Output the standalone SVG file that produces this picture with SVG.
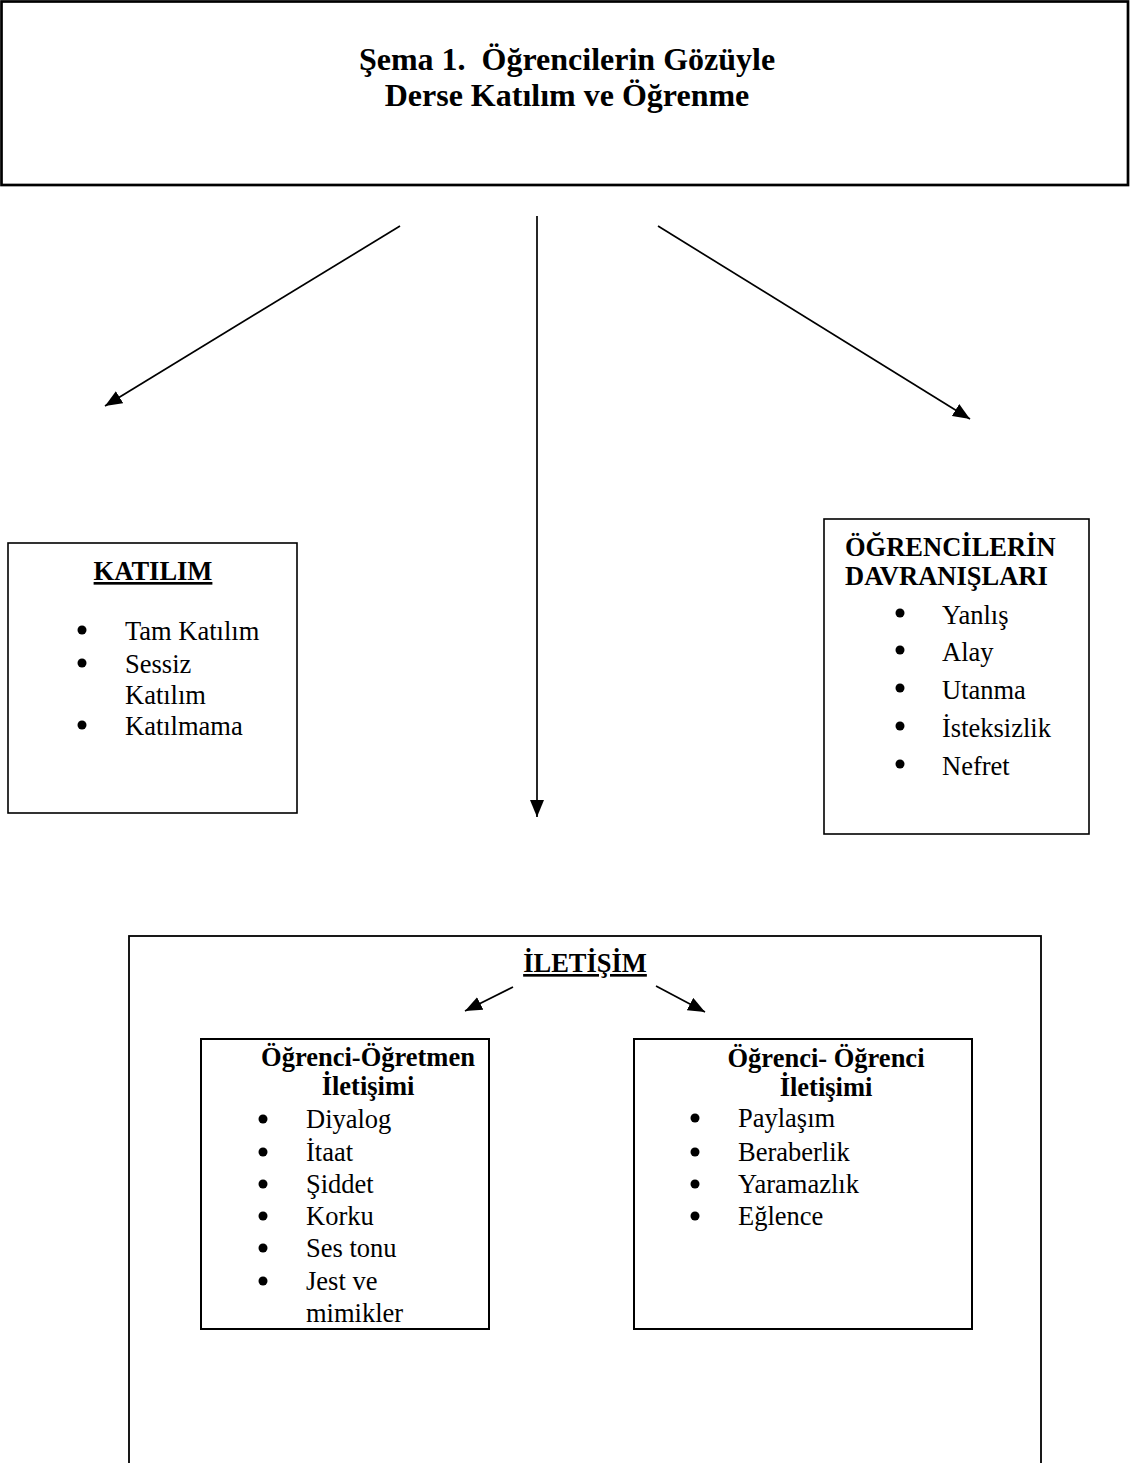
<svg xmlns="http://www.w3.org/2000/svg" width="1132" height="1463" viewBox="0 0 1132 1463">
  <style>
    .box { fill: none; stroke: #000; }
    .t { font-family: "Liberation Serif", "Times New Roman", serif; font-size: 26.5px; fill: #000; }
    .b { font-weight: bold; }
    .u { text-decoration: underline; }
    .title { font-family: "Liberation Serif", "Times New Roman", serif; font-size: 32px; font-weight: bold; fill: #000; }
    .edge { stroke: #000; stroke-width: 1.7; fill: none; marker-end: url(#arrow); }
    .dot { fill: #000; }
  </style>
  <defs>
    <marker id="arrow" markerUnits="userSpaceOnUse" markerWidth="18" markerHeight="15" refX="17" refY="7" orient="auto">
      <path d="M0,0 L17,7 L0,14 z" fill="#000"/>
    </marker>
  </defs>
  <rect width="1132" height="1463" fill="#fff"/>

  <g id="title-node">
    <rect class="box" x="1.5" y="1.5" width="1126.5" height="183.5" stroke-width="2.7"/>
    <text class="title" x="567" y="70" text-anchor="middle">Şema 1.&#160; Öğrencilerin Gözüyle</text>
    <text class="title" x="567" y="106" text-anchor="middle">Derse Katılım ve Öğrenme</text>
  </g>

  <g id="connectors">
    <line class="edge" x1="400" y1="226" x2="105" y2="406"/>
    <line class="edge" x1="537" y1="216" x2="537" y2="817"/>
    <line class="edge" x1="658" y1="226" x2="970" y2="419"/>
    <line class="edge" x1="513" y1="987" x2="465" y2="1011"/>
    <line class="edge" x1="656" y1="986" x2="705" y2="1012"/>
  </g>

  <g id="katilim-node">
    <rect class="box" x="8" y="543" width="289" height="270" stroke-width="1.6"/>
    <text class="t b u" x="153" y="580" text-anchor="middle">KATILIM</text>
    <circle class="dot" cx="82" cy="630" r="4.5"/>
    <text class="t" x="125" y="640">Tam Katılım</text>
    <circle class="dot" cx="82" cy="663" r="4.5"/>
    <text class="t" x="125" y="673">Sessiz</text>
    <text class="t" x="125" y="704">Katılım</text>
    <circle class="dot" cx="82" cy="725" r="4.5"/>
    <text class="t" x="125" y="735">Katılmama</text>
  </g>

  <g id="davranis-node">
    <rect class="box" x="824" y="519" width="265" height="315" stroke-width="1.6"/>
    <text class="t b" x="845" y="556">ÖĞRENCİLERİN</text>
    <text class="t b" x="845" y="585">DAVRANIŞLARI</text>
    <circle class="dot" cx="900" cy="613" r="4.5"/>
    <text class="t" x="942" y="624">Yanlış</text>
    <circle class="dot" cx="900" cy="650" r="4.5"/>
    <text class="t" x="942" y="661">Alay</text>
    <circle class="dot" cx="900" cy="688" r="4.5"/>
    <text class="t" x="942" y="699">Utanma</text>
    <circle class="dot" cx="900" cy="726" r="4.5"/>
    <text class="t" x="942" y="737">İsteksizlik</text>
    <circle class="dot" cx="900" cy="764" r="4.5"/>
    <text class="t" x="942" y="775">Nefret</text>
  </g>

  <g id="iletisim-node">
    <rect class="box" x="129" y="936" width="912" height="600" stroke-width="1.8"/>
    <text class="t b u" x="585" y="972" text-anchor="middle">İLETİŞİM</text>
  </g>

  <g id="ogrenci-ogretmen-node">
    <rect class="box" x="201" y="1039" width="288" height="290" stroke-width="2"/>
    <text class="t b" x="368" y="1066" text-anchor="middle">Öğrenci-Öğretmen</text>
    <text class="t b" x="368" y="1095" text-anchor="middle">İletişimi</text>
    <circle class="dot" cx="263" cy="1119" r="4.5"/>
    <text class="t" x="306" y="1128">Diyalog</text>
    <circle class="dot" cx="263" cy="1152" r="4.5"/>
    <text class="t" x="306" y="1161">İtaat</text>
    <circle class="dot" cx="263" cy="1184" r="4.5"/>
    <text class="t" x="306" y="1193">Şiddet</text>
    <circle class="dot" cx="263" cy="1216" r="4.5"/>
    <text class="t" x="306" y="1225">Korku</text>
    <circle class="dot" cx="263" cy="1248" r="4.5"/>
    <text class="t" x="306" y="1257">Ses tonu</text>
    <circle class="dot" cx="263" cy="1281" r="4.5"/>
    <text class="t" x="306" y="1290">Jest ve</text>
    <text class="t" x="306" y="1322">mimikler</text>
  </g>

  <g id="ogrenci-ogrenci-node">
    <rect class="box" x="634" y="1039" width="338" height="290" stroke-width="2"/>
    <text class="t b" x="826" y="1067" text-anchor="middle">Öğrenci- Öğrenci</text>
    <text class="t b" x="826" y="1096" text-anchor="middle">İletişimi</text>
    <circle class="dot" cx="695" cy="1118" r="4.5"/>
    <text class="t" x="738" y="1127">Paylaşım</text>
    <circle class="dot" cx="695" cy="1152" r="4.5"/>
    <text class="t" x="738" y="1161">Beraberlik</text>
    <circle class="dot" cx="695" cy="1184" r="4.5"/>
    <text class="t" x="738" y="1193">Yaramazlık</text>
    <circle class="dot" cx="695" cy="1216" r="4.5"/>
    <text class="t" x="738" y="1225">Eğlence</text>
  </g>
</svg>
